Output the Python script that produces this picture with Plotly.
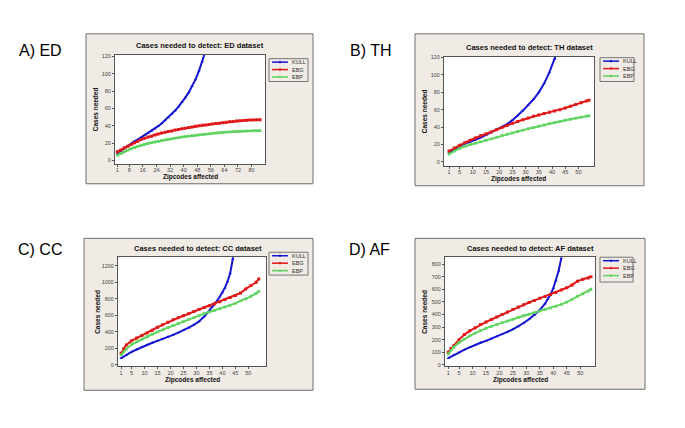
import plotly.graph_objects as go

# The page adds an 8px body margin, so the figure is 8px smaller and offset.
OFF = 8
W, H = 685 - OFF, 428 - OFF

# ---------------- data ----------------
# A) ED dataset
x_ed = list(range(1, 86, 2))
kull_x_ed = list(range(1, 54, 2))
kull_ed = [8, 11, 14, 16.5, 19, 22, 24, 26.5, 29, 31.5, 34, 36.5, 39.5, 42.5, 46, 49.5,
           53.5, 57.5, 62, 67, 72.5, 78.5, 85.5, 93.5, 103, 114, 127]
ebg_ed = [10, 12, 14.5, 16.5, 18.5, 20.5, 22, 24, 25.5, 27, 28, 29.3, 30.5, 31.5, 32.5,
          33.3, 34, 35, 35.8, 36.5, 37.2, 38, 38.7, 39.3, 40, 40.5, 41, 41.5, 42, 42.5,
          43, 43.5, 44, 44.5, 45, 45.5, 45.8, 46, 46.3, 46.5, 46.7, 46.8, 47]
ebp_ed = [6, 8, 10, 12, 13.5, 15, 16.3, 17.5, 18.5, 19.5, 20.5, 21.3, 22, 23, 23.7, 24.4,
          25, 25.7, 26.3, 27, 27.5, 28, 28.5, 29, 29.5, 30, 30.4, 30.8, 31.2, 31.6, 32,
          32.3, 32.6, 32.9, 33.2, 33.4, 33.6, 33.8, 34, 34.1, 34.2, 34.3, 34.4]

# B) TH dataset
x_th = list(range(1, 54, 2)) + [54]
kull_x_th = list(range(1, 42, 2)) + [43]
kull_th = [11, 15, 18, 21, 23, 25.5, 28, 31, 34, 37, 40, 43.5, 48, 53, 59, 65.5, 72, 80,
           90, 103, 118, 135]
ebg_th = [12.5, 16, 19, 22, 25, 27.5, 30, 32, 34.5, 37, 39.5, 42, 44.5, 46.5, 48.5, 50.5,
          52.5, 54, 55.5, 57, 58.5, 60, 62, 64, 66, 68, 70, 71]
ebp_th = [9, 12.5, 15.5, 18, 20, 21.5, 23, 24.7, 26.5, 28.5, 30.5, 32, 33.5, 35, 36.5, 38,
          39.5, 41, 42.5, 44, 45.3, 46.5, 47.8, 49, 50.3, 51.5, 52.5, 53]

# C) CC dataset
x_cc = [1, 2] + list(range(3, 54, 2)) + [54]
kull_x_cc = list(range(1, 40, 2)) + [40, 41, 42, 43, 44, 45]
kull_cc = [80, 120, 156, 185, 215, 242, 267, 290, 312, 337, 362, 390, 418, 450, 485, 525,
           585, 655, 735, 825, 875, 935, 1010, 1110, 1280, 1500]
ebg_cc = [140, 195, 240, 290, 325, 355, 385, 420, 455, 485, 515, 545, 570, 595, 620, 645,
          670, 695, 715, 740, 765, 790, 815, 840, 870, 920, 960, 1000, 1040]
ebp_cc = [120, 160, 190, 245, 280, 310, 340, 370, 400, 425, 450, 475, 500, 525, 550, 570,
          595, 620, 640, 660, 680, 700, 720, 745, 775, 800, 830, 865, 890]

# D) AF dataset
x_af = [1, 2] + list(range(3, 54, 2)) + [54]
kull_x_af = list(range(1, 38, 2)) + [38, 39, 40, 41, 42, 43]
kull_af = [53, 78, 97, 120, 140, 158, 175, 190, 207, 224, 242, 262, 282, 305, 332, 362,
           395, 435, 488, 520, 560, 608, 668, 745, 850]
ebg_af = [100, 130, 150, 200, 240, 270, 295, 320, 340, 360, 380, 400, 420, 440, 460, 478,
          495, 512, 528, 543, 558, 575, 595, 612, 635, 665, 680, 690, 700]
ebp_af = [85, 115, 140, 176, 205, 230, 252, 272, 290, 305, 320, 335, 348, 362, 376, 390,
          402, 415, 428, 440, 452, 465, 480, 498, 520, 545, 565, 585, 600]

series_names = ["KULL", "EBG", "EBP"]
panel_titles = ["Cases needed to detect: ED dataset", "Cases needed to detect: TH dataset",
                "Cases needed to detect: CC dataset", "Cases needed to detect: AF dataset"]
panel_labels = ["A) ED", "B) TH", "C) CC", "D) AF"]
x_ticks_ed = [1, 8, 16, 24, 32, 40, 48, 56, 64, 72, 80]
x_ticks_other = [1, 5, 10, 15, 20, 25, 30, 35, 40, 45, 50]
y_ticks_small = [0, 20, 40, 60, 80, 100, 120]
y_ticks_cc = [0, 200, 400, 600, 800, 1000, 1200]
y_ticks_af = [0, 100, 200, 300, 400, 500, 600, 700, 800]

# ---------------- styling / layout ----------------
colors = ["#1414d2", "#e01818", "#5fd35f"]
symbols = ["triangle-up", "square", "x"]
FONT = "Liberation Sans"


def fx(px):
    return (px - OFF) / W


def fy(py):
    return 1 - (py - OFF) / H


panels = [
    dict(frame=(86, 32, 313, 183), plot=(115, 53, 265, 163), xr=[-0.4, 87.9], yr=[-4, 122],
         xt=x_ticks_ed, yt=y_ticks_small, legend=(269, 57, 308, 80), label=(40, 49),
         data=(x_ed, kull_x_ed, kull_ed, ebg_ed, ebp_ed)),
    dict(frame=(415, 32, 644, 185), plot=(444, 55, 594, 165), xr=[-0.9, 55.9], yr=[-4.6, 121],
         xt=x_ticks_other, yt=y_ticks_small, legend=(600, 56, 634, 80), label=(370, 49),
         data=(x_th, kull_x_th, kull_th, ebg_th, ebp_th)),
    dict(frame=(84, 238, 313, 391), plot=(118, 257, 266, 367), xr=[-0.2, 56.8], yr=[-20, 1304],
         xt=x_ticks_other, yt=y_ticks_cc, legend=(269, 252, 308, 275), label=(40, 249),
         data=(x_cc, kull_x_cc, kull_cc, ebg_cc, ebp_cc)),
    dict(frame=(415, 238, 645, 390), plot=(445, 257, 595, 367), xr=[-0.2, 55.5], yr=[-13, 855],
         xt=x_ticks_other, yt=y_ticks_af, legend=(600, 257, 633, 282), label=(369, 249),
         data=(x_af, kull_x_af, kull_af, ebg_af, ebp_af)),
]

fig = go.Figure()
shapes = []
annotations = []
layout_axes = {}

for i, p in enumerate(panels):
    n = "" if i == 0 else str(i + 1)
    xa, ya = "x" + n, "y" + n
    xs, kx, ky, g, e = p["data"]
    for j, (xx, yy) in enumerate([(kx, ky), (xs, g), (xs, e)]):
        fig.add_trace(go.Scatter(
            x=xx, y=yy, mode="lines+markers", name=series_names[j], showlegend=False,
            line=dict(color=colors[j], width=2),
            marker=dict(color=colors[j], size=3, symbol=symbols[j]),
            xaxis=xa, yaxis=ya, cliponaxis=True))

    l, t, r, b = p["plot"]
    axis_common = dict(showline=True, linecolor="#555555", linewidth=1, mirror=True,
                       ticks="outside", ticklen=2, tickcolor="#555555", showgrid=False,
                       zeroline=False, tickfont=dict(family=FONT, size=5.5, color="#444444"))
    layout_axes["xaxis" + n] = dict(axis_common, domain=[fx(l), fx(r)], range=p["xr"],
                                    tickvals=p["xt"], anchor=ya, ticklabelstandoff=-1)
    layout_axes["yaxis" + n] = dict(axis_common, domain=[fy(b), fy(t)], range=p["yr"],
                                    tickvals=p["yt"], anchor=xa)

    # beige frame + white plot area
    fl, ft, fr, fb = p["frame"]
    shapes.append(dict(type="rect", xref="paper", yref="paper", layer="below",
                       x0=fx(fl), x1=fx(fr), y0=fy(fb), y1=fy(ft),
                       fillcolor="#f0ebe5", line=dict(color="#6e6e6e", width=1)))
    shapes.append(dict(type="rect", xref="paper", yref="paper", layer="below",
                       x0=fx(l), x1=fx(r), y0=fy(b), y1=fy(t),
                       fillcolor="white", line=dict(width=0)))

    # titles
    annotations.append(dict(text="<b>" + panel_titles[i] + "</b>", xref="paper", yref="paper",
                            x=fx((fl + fr) / 2), y=fy(t - 9), xanchor="center", yanchor="middle",
                            showarrow=False, font=dict(family=FONT, size=7.5, color="#111111")))
    annotations.append(dict(text="<b>Zipcodes affected</b>", xref="paper", yref="paper",
                            x=fx((l + r) / 2), y=fy(b + 13.5), xanchor="center", yanchor="middle",
                            showarrow=False, font=dict(family=FONT, size=6.5, color="#111111")))
    annotations.append(dict(text="<b>Cases needed</b>", xref="paper", yref="paper",
                            x=fx(l - 20), y=fy((t + b) / 2), xanchor="center", yanchor="middle",
                            textangle=-90, showarrow=False,
                            font=dict(family=FONT, size=6.5, color="#111111")))
    annotations.append(dict(text=panel_labels[i], xref="paper", yref="paper",
                            x=fx(p["label"][0]), y=fy(p["label"][1]), xanchor="center",
                            yanchor="middle", showarrow=False,
                            font=dict(family="Liberation Sans", size=16, color="#000000")))

    # manual legend box
    ll, lt, lr, lb = p["legend"]
    shapes.append(dict(type="rect", xref="paper", yref="paper", layer="above",
                       x0=fx(ll), x1=fx(lr), y0=fy(lb), y1=fy(lt),
                       line=dict(color="#777777", width=1)))
    rows = [lt + 3.5, lt + 11, lt + 18.5]
    for j in range(3):
        yy = rows[j]
        shapes.append(dict(type="line", xref="paper", yref="paper", layer="above",
                           x0=fx(ll + 3), x1=fx(ll + 19), y0=fy(yy), y1=fy(yy),
                           line=dict(color=colors[j], width=1.5)))
        shapes.append(dict(type="circle", xref="paper", yref="paper", layer="above",
                           x0=fx(ll + 10), x1=fx(ll + 12), y0=fy(yy + 1), y1=fy(yy - 1),
                           fillcolor=colors[j], line=dict(color=colors[j], width=0.5)))
        annotations.append(dict(text=series_names[j], xref="paper", yref="paper",
                                x=fx(ll + 20.5), y=fy(yy), xanchor="left", yanchor="middle",
                                showarrow=False,
                                font=dict(family=FONT, size=5.5, color="#333333")))

fig.update_layout(
    width=W, height=H, margin=dict(l=0, r=0, t=0, b=0),
    paper_bgcolor="white", plot_bgcolor="white", showlegend=False,
    shapes=shapes, annotations=annotations, **layout_axes)

fig.write_html("out.html")
